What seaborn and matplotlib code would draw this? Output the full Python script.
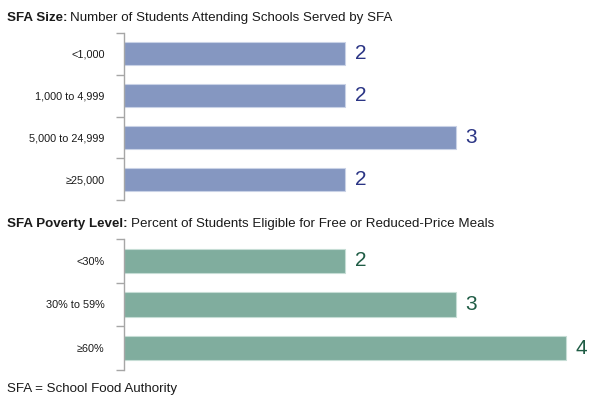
import matplotlib
matplotlib.use("Agg")
import matplotlib.pyplot as plt
import numpy as np
import pandas as pd
import seaborn as sns

# data
size_labels = ["<1,000", "1,000 to 4,999", "5,000 to 24,999", "\u226525,000"]
size_values = [2, 2, 3, 2]
poverty_labels = ["<30%", "30% to 59%", "\u226560%"]
poverty_values = [2, 3, 4]

sns.set_style("white")
plt.rcParams['font.family'] = ['Liberation Sans', 'DejaVu Sans']

fig = plt.figure(figsize=(5.9, 3.97), dpi=100)

W, H = 590.0, 397.0
left = 124 / W
width = (W - 124) / W
xmax = (W - 124) / 110.5


def panel(rect, labels, values, bar_col, edge_col, text_col):
    ax = fig.add_axes(rect)
    df = pd.DataFrame({"cat": labels, "val": values})
    sns.barplot(data=df, y="cat", x="val", orient="h", color=bar_col,
                saturation=1, width=0.55, edgecolor=edge_col, linewidth=0.8, ax=ax)
    ax.set_xlim(0, xmax)
    ax.set_ylim(len(labels) - 0.5, -0.5)
    ax.set_xlabel("")
    ax.set_ylabel("")
    ax.set_xticks([])
    for s in ["top", "right", "bottom"]:
        ax.spines[s].set_visible(False)
    ax.spines["left"].set_color("#a6a6a6")
    ax.spines["left"].set_linewidth(1.0)
    ax.set_yticks(np.arange(-0.5, len(labels)), minor=True)
    ax.tick_params(axis="y", which="major", left=False, length=0, pad=14,
                   labelsize=7.8, labelcolor="#1a1a1a")
    ax.tick_params(axis="y", which="minor", left=True, length=6, width=1.0,
                   color="#a6a6a6", direction="out")
    ax.bar_label(ax.containers[0], padding=7, fontsize=15, color=text_col)
    return ax


ax1 = panel([left, (H - 200) / H, width, 167 / H], size_labels, size_values,
            "#8597c1", "#c9d2e6", "#2b3585")
ax2 = panel([left, (H - 370) / H, width, 131 / H], poverty_labels, poverty_values,
            "#80ad9e", "#c6ddd5", "#1f5c45")

# titles with bold lead-in
def title(y_px, bold, rest):
    t = fig.text(7 / W, 1 - y_px / H, bold, fontsize=9.6, fontweight="bold",
                 color="#1a1a1a", va="center", ha="left")
    fig.canvas.draw()
    bb = t.get_window_extent()
    fig.text(bb.x1 / W + 3 / W, 1 - y_px / H, rest, fontsize=9.6,
             color="#1a1a1a", va="center", ha="left")


title(18, "SFA Size:", "Number of Students Attending Schools Served by SFA")
title(224, "SFA Poverty Level:", "Percent of Students Eligible for Free or Reduced-Price Meals")

fig.text(7 / W, 1 - 389 / H, "SFA = School Food Authority", fontsize=9.6,
         color="#1a1a1a", va="center", ha="left")

fig.savefig("out.png", dpi=100)
